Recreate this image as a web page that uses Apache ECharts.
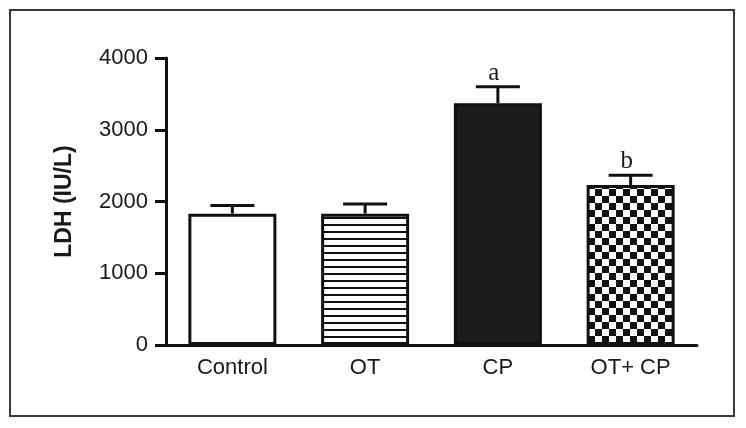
<!DOCTYPE html>
<html>
<head>
<meta charset="utf-8">
<script src="https://cdn.jsdelivr.net/npm/echarts@6/dist/echarts.min.js"></script>
<style>
html,body{margin:0;padding:0;background:#fff;}
#chart{width:746px;height:428px;}
</style>
</head>
<body>
<div id="chart"></div>
<script>
// ---- data ----
var categories = ['Control', 'OT', 'CP', 'OT+ CP'];
var means = [1830, 1830, 3370, 2230];
var errTops = [1945, 1965, 3600, 2365];
var sigLabels = ['', '', 'a', 'b'];
var yTicks = [0, 1000, 2000, 3000, 4000];
var yTitle = 'LDH (IU/L)';

// ---- fill patterns ----
function stripePattern() {
  var c = document.createElement('canvas');
  c.width = 8; c.height = 7;
  var g = c.getContext('2d');
  g.fillStyle = '#fff'; g.fillRect(0, 0, 8, 7);
  g.fillStyle = '#111'; g.fillRect(0, 0, 8, 2);
  return c;
}
function checkerPattern() {
  var c = document.createElement('canvas');
  var s = 7;
  c.width = 2 * s; c.height = 2 * s;
  var g = c.getContext('2d');
  g.fillStyle = '#fff'; g.fillRect(0, 0, 2 * s, 2 * s);
  g.fillStyle = '#111';
  g.fillRect(0, 0, s, s);
  g.fillRect(s, s, s, s);
  return c;
}
var fills = [
  '#ffffff',
  { image: stripePattern(), repeat: 'repeat' },
  '#1c1c1c',
  { image: checkerPattern(), repeat: 'repeat' }
];

var barData = means.map(function (v, i) {
  return { value: v, itemStyle: { color: fills[i] } };
});
var errData = means.map(function (v, i) {
  return [i, v, errTops[i], sigLabels[i]];
});

var FONT = 'Liberation Sans, Arial, sans-serif';
var chart = echarts.init(document.getElementById('chart'), null, { renderer: 'canvas' });
chart.setOption({
  animation: false,
  backgroundColor: '#fff',
  grid: { left: 166, right: 49, top: 58, bottom: 83, containLabel: false },
  graphic: [{
    type: 'rect',
    shape: { x: 10, y: 10, width: 724, height: 406 },
    style: { fill: 'none', stroke: '#3a3a3a', lineWidth: 2 },
    silent: true
  }],
  xAxis: {
    type: 'category',
    data: categories,
    axisLine: { lineStyle: { color: '#111', width: 3 } },
    axisTick: { alignWithLabel: true, length: 8, lineStyle: { color: '#111', width: 3 } },
    axisLabel: { color: '#1a1a1a', fontSize: 22, fontFamily: FONT, margin: 12 }
  },
  yAxis: {
    type: 'value',
    min: yTicks[0],
    max: yTicks[yTicks.length - 1],
    interval: yTicks[1] - yTicks[0],
    name: yTitle,
    nameLocation: 'middle',
    nameGap: 90,
    nameTextStyle: { color: '#1a1a1a', fontSize: 23, fontWeight: 'bold', fontFamily: FONT },
    axisLine: { show: true, lineStyle: { color: '#111', width: 3 } },
    axisTick: { show: true, length: 11, lineStyle: { color: '#111', width: 3 } },
    axisLabel: {
      color: '#1a1a1a', fontSize: 22, fontFamily: FONT, margin: 18,
      formatter: function (v) { return String(v); }
    },
    splitLine: { show: false }
  },
  series: [{
    type: 'bar',
    data: barData,
    barWidth: 88,
    itemStyle: { borderColor: '#111', borderWidth: 3 },
    z: 2
  }, {
    type: 'custom',
    data: errData,
    z: 3,
    renderItem: function (params, api) {
      var i = api.value(0);
      var base = api.coord([i, api.value(1)]);
      var top = api.coord([i, api.value(2)]);
      var half = 22;
      var label = sigLabels[params.dataIndex];
      var children = [{
        type: 'line',
        shape: { x1: base[0], y1: base[1], x2: top[0], y2: top[1] },
        style: { stroke: '#111', lineWidth: 3 }
      }, {
        type: 'line',
        shape: { x1: top[0] - half, y1: top[1], x2: top[0] + half, y2: top[1] },
        style: { stroke: '#111', lineWidth: 3 }
      }];
      if (label) {
        children.push({
          type: 'text',
          style: {
            text: label, x: top[0] - 4, y: top[1] - 1,
            align: 'center', verticalAlign: 'bottom',
            fill: '#1a1a1a', fontSize: 25, fontFamily: 'Liberation Serif, Times New Roman, serif'
          }
        });
      }
      return { type: 'group', children: children };
    }
  }]
});
</script>
</body>
</html>
